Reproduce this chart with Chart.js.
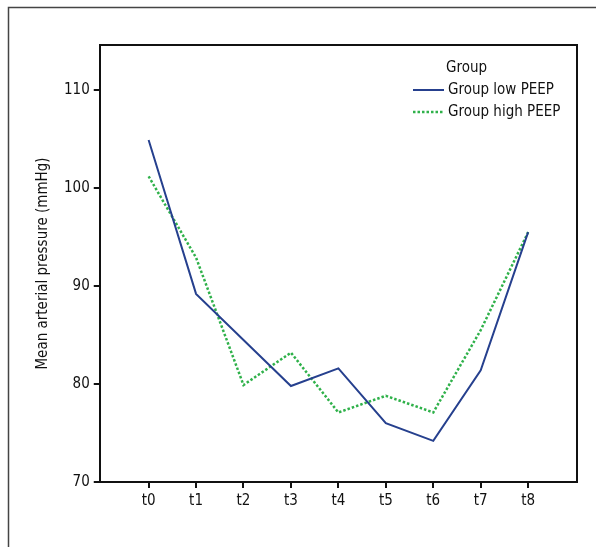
<!DOCTYPE html>
<html>
<head>
<meta charset="utf-8">
<script src="https://cdn.jsdelivr.net/npm/chart.js@4"></script>
<style>
  html, body { margin: 0; padding: 0; background: #fff; }
  #wrap { position: relative; width: 596px; height: 547px; }
</style>
</head>
<body>
<div id="wrap"><canvas id="chart" width="596" height="547"></canvas></div>
<script>
const timePoints = ['t0', 't1', 't2', 't3', 't4', 't5', 't6', 't7', 't8'];
const lowPeep = [104.9, 89.2, 84.5, 79.8, 81.6, 76.0, 74.2, 81.4, 95.5];
const highPeep = [101.2, 92.9, 79.9, 83.2, 77.1, 78.8, 77.1, 85.5, 95.5];

const FONT = '"Liberation Sans Narrow", "DejaVu Sans Condensed", "Roboto Condensed", sans-serif';

// plot frame + the cropped outer border (top and left only)
const framePlugin = {
  id: 'frame',
  afterDraw(chart) {
    const { ctx, chartArea: a } = chart;
    ctx.save();
    ctx.strokeStyle = '#111';
    ctx.lineWidth = 2;
    ctx.beginPath();
    ctx.moveTo(a.left, a.top);
    ctx.lineTo(a.right, a.top);
    ctx.lineTo(a.right, a.bottom);
    ctx.stroke();
    ctx.strokeStyle = '#444';
    ctx.lineWidth = 1.5;
    ctx.beginPath();
    ctx.moveTo(8.5, chart.height);
    ctx.lineTo(8.5, 7.5);
    ctx.lineTo(chart.width, 7.5);
    ctx.stroke();
    ctx.restore();
  }
};

// legend drawn inside the plot, top right
const legendPlugin = {
  id: 'groupLegend',
  afterDraw(chart) {
    const { ctx, chartArea: a } = chart;
    const x0 = a.right - 164;
    ctx.save();
    ctx.font = '15px ' + FONT;
    ctx.fillStyle = '#111';
    ctx.textBaseline = 'middle';
    ctx.fillText('Group', x0 + 33, a.top + 23);
    chart.data.datasets.forEach((ds, i) => {
      const y = a.top + 45 + i * 22;
      ctx.strokeStyle = ds.borderColor;
      ctx.lineWidth = ds.borderWidth;
      ctx.setLineDash(ds.borderDash || []);
      ctx.beginPath();
      ctx.moveTo(x0, y);
      ctx.lineTo(x0 + 31, y);
      ctx.stroke();
      ctx.setLineDash([]);
      ctx.fillText(ds.label, x0 + 35, y);
    });
    ctx.restore();
  }
};

new Chart(document.getElementById('chart'), {
  type: 'line',
  data: {
    datasets: [
      {
        label: 'Group low PEEP',
        data: lowPeep.map((v, i) => ({ x: i, y: v })),
        borderColor: '#26408e',
        borderWidth: 2,
        pointRadius: 0,
        tension: 0,
        fill: false,
      },
      {
        label: 'Group high PEEP',
        data: highPeep.map((v, i) => ({ x: i, y: v })),
        borderColor: '#2fb14a',
        borderWidth: 2.5,
        borderDash: [2.5, 2],
        pointRadius: 0,
        tension: 0,
        fill: false,
      },
    ],
  },
  options: {
    responsive: false,
    animation: false,
    layout: { padding: { top: 45, right: 19, bottom: 33, left: 34 } },
    plugins: {
      legend: { display: false },
      tooltip: { enabled: false },
    },
    scales: {
      x: {
        type: 'linear',
        min: -1.03,
        max: 9.03,
        afterBuildTicks: axis => {
          axis.ticks = timePoints.map((_, i) => ({ value: i }));
        },
        ticks: {
          autoSkip: false,
          maxRotation: 0,
          padding: 4,
          color: '#111',
          font: { family: FONT, size: 15 },
          callback: v => timePoints[v],
        },
        grid: { drawOnChartArea: false, drawTicks: true, tickLength: 6, color: '#111', lineWidth: 2 },
        border: { display: true, color: '#111', width: 2 },
      },
      y: {
        min: 70,
        max: 114.6,
        afterBuildTicks: axis => {
          axis.ticks = [70, 80, 90, 100, 110].map(v => ({ value: v }));
        },
        ticks: {
          padding: 4,
          color: '#111',
          font: { family: FONT, size: 15 },
        },
        grid: { drawOnChartArea: false, drawTicks: true, tickLength: 6, color: '#111', lineWidth: 2 },
        border: { display: true, color: '#111', width: 2 },
        title: {
          display: true,
          text: 'Mean arterial pressure (mmHg)',
          color: '#111',
          font: { family: FONT, size: 15 },
          padding: { top: 0, bottom: 8 },
        },
      },
    },
  },
  plugins: [framePlugin, legendPlugin],
});
</script>
</body>
</html>
